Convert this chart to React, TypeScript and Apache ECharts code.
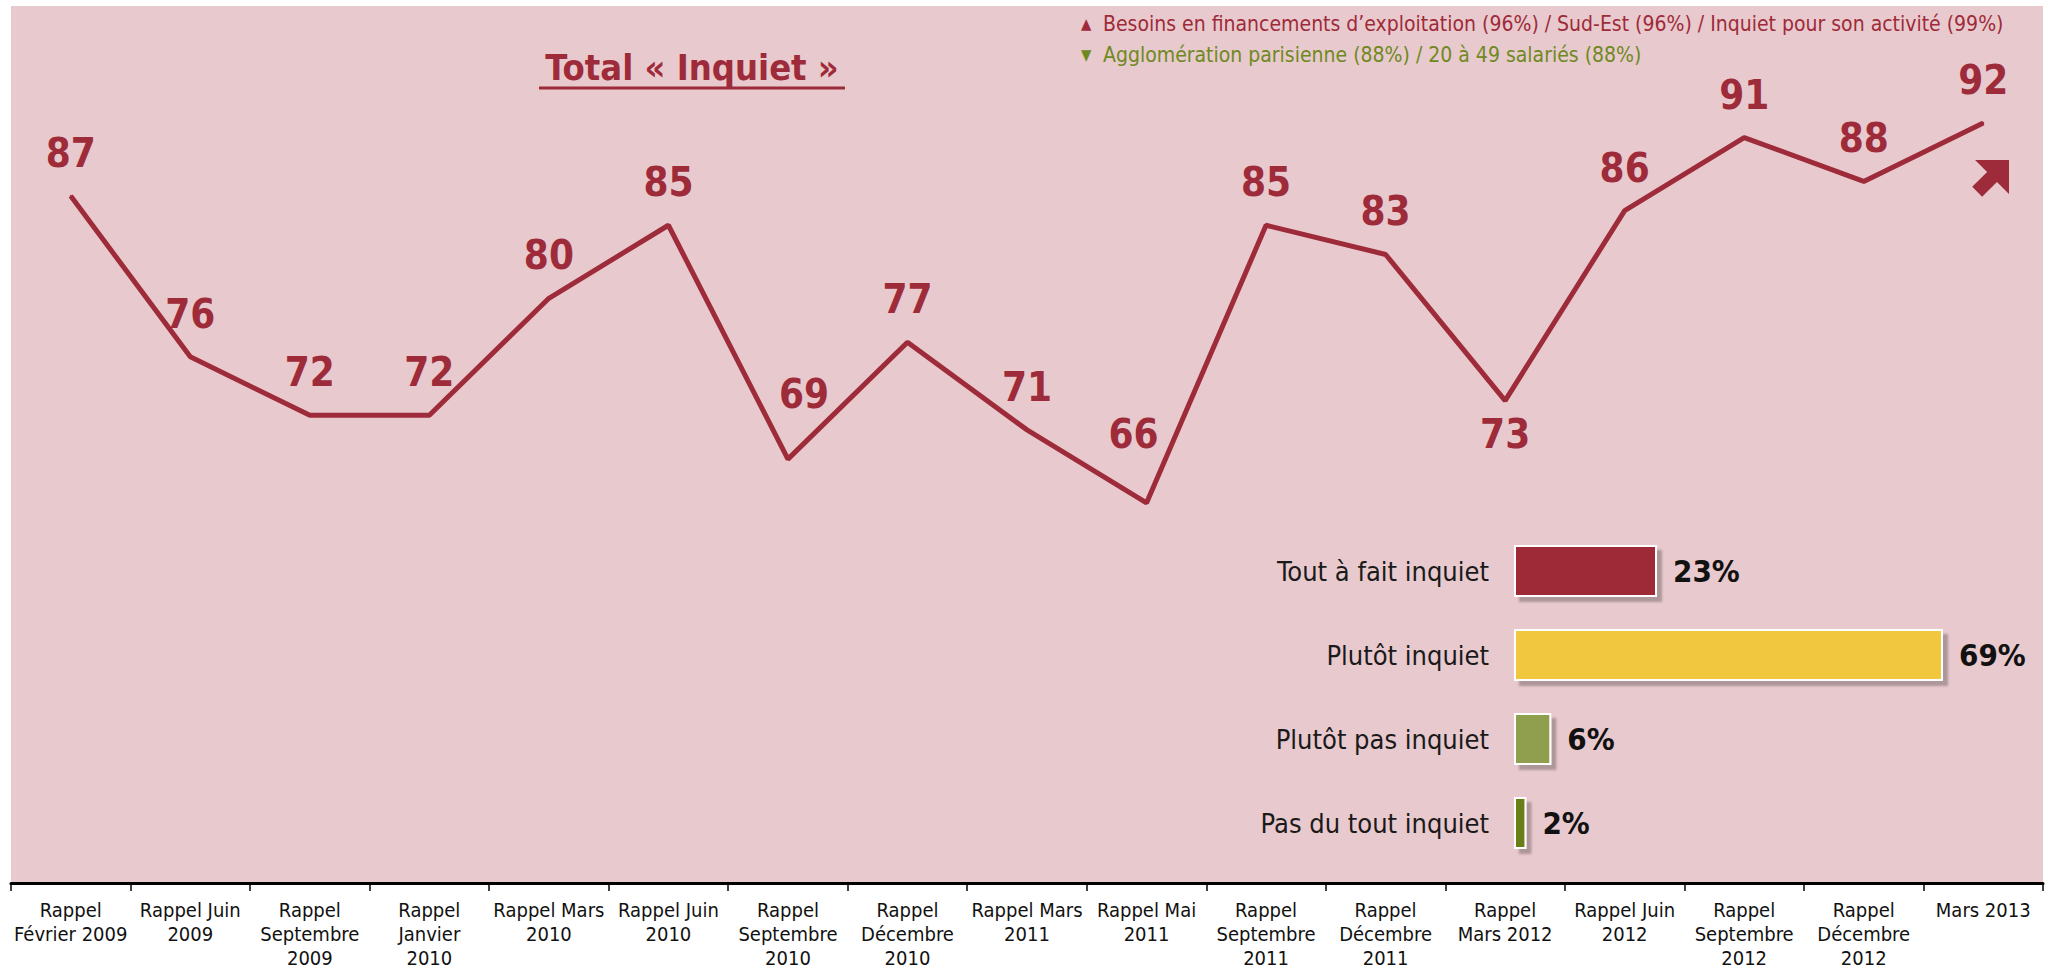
import React, { useEffect, useRef } from "react";
import * as echarts from "echarts";

const periods = [
  "Rappel\nFévrier 2009",
  "Rappel Juin\n2009",
  "Rappel\nSeptembre\n2009",
  "Rappel\nJanvier\n2010",
  "Rappel Mars\n2010",
  "Rappel Juin\n2010",
  "Rappel\nSeptembre\n2010",
  "Rappel\nDécembre\n2010",
  "Rappel Mars\n2011",
  "Rappel Mai\n2011",
  "Rappel\nSeptembre\n2011",
  "Rappel\nDécembre\n2011",
  "Rappel\nMars 2012",
  "Rappel Juin\n2012",
  "Rappel\nSeptembre\n2012",
  "Rappel\nDécembre\n2012",
  "Mars 2013",
];
const totalInquiet = [87, 76, 72, 72, 80, 85, 69, 77, 71, 66, 85, 83, 73, 86, 91, 88, 92];

const levels = ["Tout à fait inquiet", "Plutôt inquiet", "Plutôt pas inquiet", "Pas du tout inquiet"];
const levelValues = [23, 69, 6, 2];
const levelColors = ["#9E2B39", "#F1C741", "#8F9F4D", "#6B7D15"];

const titleText = "Total « Inquiet »";
const noteUp = "Besoins en financements d’exploitation (96%) / Sud-Est (96%) / Inquiet pour son activité (99%)";
const noteDown = "Agglomération parisienne (88%) / 20 à 49 salariés (88%)";

const RED = "#9E2B39";
const GREEN = "#6E8A1E";
const NARROW = "'Liberation Sans Narrow', 'DejaVu Sans Condensed', sans-serif";
const BOLD = "'DejaVu Sans Condensed', 'DejaVu Sans', sans-serif";

function arrowPoints(tx: number, ty: number): number[][] {
  const local = [
    [-45, -7], [-24, -7], [-24, -24], [0, 0], [-24, 24], [-24, 7], [-45, 7],
  ];
  const s = Math.SQRT1_2;
  return local.map(([u, v]) => [tx + s * (u + v), ty + s * (-u + v)]);
}

export default function App() {
  const ref = useRef<HTMLDivElement>(null);
  useEffect(() => {
    if (!ref.current) return;
    const chart = echarts.init(ref.current, null, { renderer: "svg" });

    const lineData = totalInquiet.map((v, i) => {
      let label: any = { show: true, position: "top", distance: 22 };
      if (i === 12) label = { show: true, position: "bottom", distance: 12 };
      if (i === 6) label = { show: true, position: "top", distance: 44, offset: [16, 0] };
      if (i === 9) label = { show: true, position: "top", distance: 48, offset: [-13, 0] };
      return { value: v, label };
    });

    const barData = levelValues.map((v, i) => ({
      value: v,
      itemStyle: { color: levelColors[i] },
    }));

    chart.setOption({
      animation: false,
      backgroundColor: "#ffffff",
      grid: [
        { left: 11, right: 9, top: 6, bottom: 85, show: true, backgroundColor: "#E8C9CD", borderWidth: 0 },
        { left: 1514, right: 109, top: 529, height: 336, show: false },
      ],
      xAxis: [
        {
          type: "category",
          gridIndex: 0,
          data: periods,
          boundaryGap: true,
          axisLine: { show: true, lineStyle: { color: "#000", width: 3 } },
          axisTick: { show: true, length: 8, lineStyle: { color: "#000", width: 1.5 } },
          axisLabel: {
            interval: 0,
            margin: 15,
            color: "#111",
            fontFamily: NARROW,
            fontSize: 20,
            lineHeight: 24,
          },
          splitLine: { show: false },
        },
        { type: "value", gridIndex: 1, min: 0, max: Math.max(...levelValues), show: false },
      ],
      yAxis: [
        { type: "value", gridIndex: 0, min: 40, max: 100, show: false },
        {
          type: "category",
          gridIndex: 1,
          data: levels,
          inverse: true,
          axisLine: { show: false },
          axisTick: { show: false },
          axisLabel: { margin: 25, color: "#1a1a1a", fontFamily: NARROW, fontSize: 27 },
        },
      ],
      series: [
        {
          type: "line",
          xAxisIndex: 0,
          yAxisIndex: 0,
          data: lineData,
          symbol: "circle",
          symbolSize: 2,
          showSymbol: true,
          itemStyle: { color: RED },
          lineStyle: { color: RED, width: 5 },
          label: {
            show: true,
            color: RED,
            fontFamily: BOLD,
            fontWeight: "bold",
            fontSize: 40,
          },
          z: 3,
        },
        {
          type: "bar",
          xAxisIndex: 1,
          yAxisIndex: 1,
          data: barData,
          barWidth: 52,
          itemStyle: {
            borderColor: "#ffffff",
            borderWidth: 2,
            shadowColor: "rgba(0,0,0,0.25)",
            shadowOffsetX: 5,
            shadowOffsetY: 5,
            shadowBlur: 2,
          },
          label: {
            show: true,
            position: "right",
            distance: 16,
            formatter: "{c}%",
            color: "#111",
            fontFamily: NARROW,
            fontWeight: "bold",
            fontSize: 31,
          },
        },
      ],
      graphic: [
        {
          type: "text",
          x: 692,
          y: 67,
          style: {
            text: titleText,
            fill: RED,
            font: `bold 36px ${BOLD}`,
            textAlign: "center",
            textVerticalAlign: "middle",
          },
        },
        {
          type: "line",
          shape: { x1: 539, y1: 88, x2: 845, y2: 88 },
          style: { stroke: RED, lineWidth: 3 },
        },
        {
          type: "text",
          x: 1081,
          y: 24,
          style: { text: "▲", fill: RED, font: `15px ${BOLD}`, textVerticalAlign: "middle" },
        },
        {
          type: "text",
          x: 1103,
          y: 24,
          style: { text: noteUp, fill: RED, font: `21px ${NARROW}`, textVerticalAlign: "middle" },
        },
        {
          type: "text",
          x: 1081,
          y: 55,
          style: { text: "▼", fill: GREEN, font: `15px ${BOLD}`, textVerticalAlign: "middle" },
        },
        {
          type: "text",
          x: 1103,
          y: 55,
          style: { text: noteDown, fill: GREEN, font: `21px ${NARROW}`, textVerticalAlign: "middle" },
        },
        {
          type: "polygon",
          shape: { points: arrowPoints(2009, 160) },
          style: { fill: RED },
        },
      ],
    });
    return () => chart.dispose();
  }, []);
  return (
    <div
      ref={ref}
      style={{ position: "absolute", left: 0, top: 0, width: 2052, height: 970 }}
    />
  );
}
